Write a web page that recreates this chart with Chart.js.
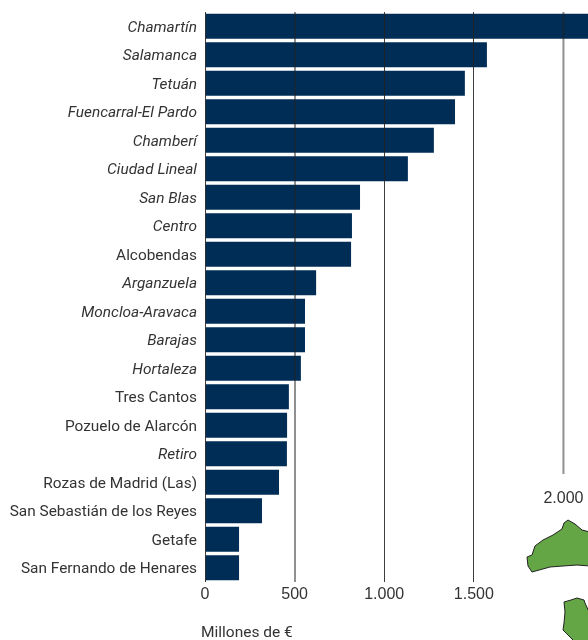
<!DOCTYPE html>
<html lang="es">
<head>
  <meta charset="UTF-8">
  <title>Millones de € por distrito y municipio</title>
  <script src="https://cdn.jsdelivr.net/npm/chart.js"></script>
  <style>
    body { margin: 0; background: #fff; overflow: hidden; }
    #wrap { position: relative; width: 588px; height: 640px; overflow: hidden; }
    #wrap canvas, #wrap svg { position: absolute; left: 0; top: 0; }
  </style>
</head>
<body>
  <div id="wrap">
    <canvas id="barChart" width="588" height="640"></canvas>
    <!-- map fragment, decoration only -->
    <svg width="588" height="640">
      <g fill="#64a546" stroke="#222" stroke-width="1" stroke-linejoin="round">
        <path d="M527 557 L532 555 L535 546 L543 540 L553 535 L562 529 L564 523 L568 520 L575 524 L582 530 L590 532 L590 566 L577 565 L563 566 L550 567 L532 572 L528 566 Z"/>
        <path d="M564 602 L571 600 L577 598 L584 600 L585 603 L590 614 L590 642 L575 642 L568 635 L563 630 L564 623 L565 612 Z"/>
      </g>
    </svg>
  </div>

  <script>
    const categories = ['Chamartín', 'Salamanca', 'Tetuán', 'Fuencarral-El Pardo', 'Chamberí', 'Ciudad Lineal',
      'San Blas', 'Centro', 'Alcobendas', 'Arganzuela', 'Moncloa-Aravaca', 'Barajas', 'Hortaleza', 'Tres Cantos',
      'Pozuelo de Alarcón', 'Retiro', 'Rozas de Madrid (Las)', 'San Sebastián de los Reyes', 'Getafe',
      'San Fernando de Henares'];
    const values = [2400, 1573, 1450, 1395, 1277, 1132, 865, 820, 815, 620, 558, 558, 535, 468, 458, 457, 413, 318, 190, 190];
    const uprightLabels = ['Alcobendas', 'Tres Cantos', 'Pozuelo de Alarcón', 'Rozas de Madrid (Las)',
      'San Sebastián de los Reyes', 'Getafe', 'San Fernando de Henares'];
    const xTicks = [0, 500, 1000, 1500, 2000];
    const xTickLabels = ['0', '500', '1.000', '1.500', '2.000'];
    const axisTitle = 'Millones de €';

    const fontFamily = '"Liberation Sans", Arial, sans-serif';
    const labelFamily = 'Roboto, "Liberation Sans", sans-serif';
    const textColor = '#333';

    // the 2.000 line stops short and its label sits above the map
    const lastTickPlugin = {
      id: 'lastTick',
      afterDraw(chart) {
        const { ctx, scales } = chart;
        const x = scales.x.getPixelForValue(2000);
        ctx.save();
        ctx.strokeStyle = 'rgba(34,34,34,0.5)';
        ctx.lineWidth = 2;
        ctx.beginPath();
        ctx.moveTo(x, 12);
        ctx.lineTo(x, 474);
        ctx.stroke();
        ctx.fillStyle = textColor;
        ctx.font = '16px ' + fontFamily;
        ctx.textAlign = 'center';
        ctx.textBaseline = 'middle';
        ctx.fillText(xTickLabels[4], x, 499);
        ctx.textAlign = 'left';
        ctx.font = '15.5px ' + labelFamily;
        ctx.fillText(axisTitle, 201, 633);
        ctx.restore();
      }
    };

    new Chart(document.getElementById('barChart'), {
      type: 'bar',
      data: {
        labels: categories,
        datasets: [{
          data: values,
          backgroundColor: '#002d56',
          barPercentage: 0.88,
          categoryPercentage: 1
        }]
      },
      options: {
        indexAxis: 'y',
        responsive: false,
        animation: false,
        layout: { padding: { top: 12, left: 0, right: 0, bottom: 0 } },
        plugins: { legend: { display: false }, tooltip: { enabled: false } },
        scales: {
          x: {
            min: 0,
            max: 2137,
            afterBuildTicks: scale => { scale.ticks = xTicks.map(v => ({ value: v })); },
            afterFit: scale => { scale.height = 58; },
            border: { display: false },
            grid: {
              z: 1,
              drawTicks: false,
              lineWidth: c => (c.tick && c.tick.value === 500 ? 2 : 1),
              color: c => {
                if (!c.tick) return 'transparent';
                if (c.tick.value === 2000) return 'transparent';
                return c.tick.value === 500 ? 'rgba(34,34,34,0.5)' : 'rgba(34,34,34,0.88)';
              }
            },
            ticks: {
              autoSkip: false,
              maxRotation: 0,
              padding: 3,
              color: textColor,
              font: { family: fontFamily, size: 16 },
              callback: value => (value === 2000 ? '' : xTickLabels[xTicks.indexOf(value)])
            }
          },
          y: {
            afterFit: scale => { scale.width = 205; },
            border: { display: false },
            grid: { display: false },
            ticks: {
              autoSkip: false,
              padding: 0,
              labelOffset: 1.5,
              color: textColor,
              font: c => ({
                family: labelFamily,
                size: 15.4,
                style: uprightLabels.includes(categories[c.index]) ? 'normal' : 'italic'
              })
            }
          }
        }
      },
      plugins: [lastTickPlugin]
    });
  </script>
</body>
</html>
